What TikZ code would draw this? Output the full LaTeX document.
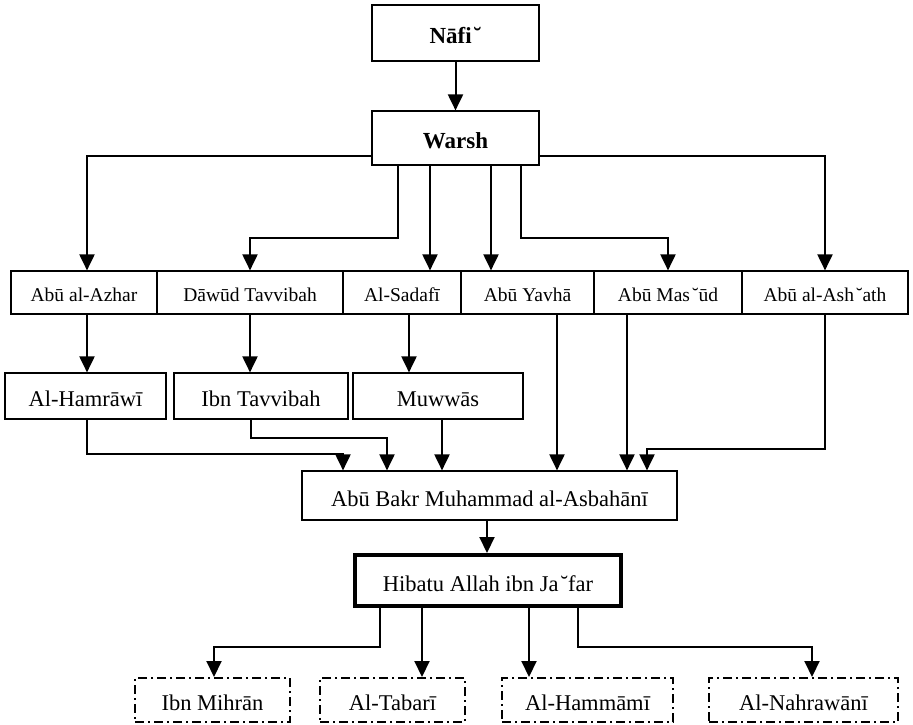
\documentclass[tikz,border=0pt]{standalone}
\usepackage{fontspec}
\setmainfont{Liberation Serif}
\usetikzlibrary{arrows.meta}
\newcommand{\ayn}{\kern2pt˘}
\begin{document}
\begin{tikzpicture}[x=1pt,y=-1pt,
  box/.style={draw, line width=1.2pt, inner sep=0pt, text height=26pt, text depth=5pt, font=\fontsize{22.5}{26}\selectfont},
  smallbox/.style={box, text height=22.5pt, text depth=4.3pt, font=\fontsize{19.5}{23}\selectfont},
  topbox/.style={box, font=\fontsize{23}{27}\selectfont\bfseries},
  thickbox/.style={box, line width=4pt},
  dashbox/.style={box, line width=2pt, dash pattern=on 9pt off 4pt on 2pt off 4pt},
  arr/.style={line width=2pt, -{Triangle[length=16pt,width=15pt]}}]
\useasboundingbox (0,0) rectangle (913,724);
% top
\node[topbox, minimum width=167pt, minimum height=56pt] (nafi) at (455.5,33) {Nāfi\ayn};
\node[topbox, minimum width=167pt, minimum height=54pt] (warsh) at (455.5,138) {Warsh};
% row 2
\node[smallbox, minimum width=146pt, minimum height=43pt] (azhar) at (84,292.5) {Abū al-Azhar};
\node[smallbox, minimum width=186pt, minimum height=43pt] (dawud) at (250,292.5) {Dāwūd Tavvibah};
\node[smallbox, minimum width=118pt, minimum height=43pt] (sadafi) at (402,292.5) {Al-Sadafī};
\node[smallbox, minimum width=133pt, minimum height=43pt] (yahya) at (527.5,292.5) {Abū Yavhā};
\node[smallbox, minimum width=148pt, minimum height=43pt] (masud) at (668,292.5) {Abū Mas\ayn ūd};
\node[smallbox, minimum width=166pt, minimum height=43pt] (ashath) at (825,292.5) {Abū al-Ash\ayn ath};
% row 3
\node[box, minimum width=161pt, minimum height=46pt] (hamrawi) at (85.5,396) {Al-Hamrāwī};
\node[box, minimum width=174pt, minimum height=46pt] (ibnt) at (261,396) {Ibn Tavvibah};
\node[box, minimum width=170pt, minimum height=46pt] (muwwas) at (438,396) {Muwwās};
% row 4
\node[box, minimum width=375pt, minimum height=49pt] (abubakr) at (489.5,495.5) {Abū Bakr Muhammad al-Asbahānī};
\node[thickbox, minimum width=266pt, minimum height=51pt] (hibatu) at (488,580.5) {Hibatu Allah ibn Ja\ayn far};
% bottom
\node[dashbox, minimum width=155pt, minimum height=44pt] (mihran) at (212.5,700) {Ibn Mihrān};
\node[dashbox, minimum width=145pt, minimum height=44pt] (tabari) at (392.5,700) {Al-Tabarī};
\node[dashbox, minimum width=171pt, minimum height=44pt] (hammami) at (587.5,700) {Al-Hammāmī};
\node[dashbox, minimum width=189pt, minimum height=44pt] (nahrawani) at (803.5,700) {Al-Nahrawānī};
% connectors
\draw[arr] (nafi) -- (warsh);
\draw[arr] ([yshift=10pt]warsh.south west) -| ([xshift=3pt]azhar.north);
\draw[arr] ([xshift=-57.5pt]warsh.south) -- ++(0,72) -| (dawud.north);
\draw[arr] ([xshift=-25.5pt]warsh.south) -- ([xshift=28pt]sadafi.north);
\draw[arr] ([xshift=35.5pt]warsh.south) -- ([xshift=-36.5pt]yahya.north);
\draw[arr] ([xshift=65.5pt]warsh.south) -- ++(0,72) -| (masud.north);
\draw[arr] ([yshift=10pt]warsh.south east) -| (ashath.north);
\draw[arr] ([xshift=3pt]azhar.south) -- ([xshift=1.5pt]hamrawi.north);
\draw[arr] (dawud.south) -- ([xshift=-11pt]ibnt.north);
\draw[arr] ([xshift=7pt]sadafi.south) -- ([xshift=-29pt]muwwas.north);
\draw[arr] ([xshift=1.5pt]hamrawi.south) -- ++(0,34) -| ([xshift=-146.5pt]abubakr.north);
\draw[arr] ([xshift=-10pt]ibnt.south) -- ++(0,18) -| ([xshift=-102.5pt]abubakr.north);
\draw[arr] ([xshift=4pt]muwwas.south) -- ([xshift=-47.5pt]abubakr.north);
\draw[arr] ([xshift=29.5pt]yahya.south) -- ([xshift=67.5pt]abubakr.north);
\draw[arr] ([xshift=-41pt]masud.south) -- ([xshift=137.5pt]abubakr.north);
\draw[arr] (ashath.south) -- ++(0,134) -| ([xshift=157.5pt]abubakr.north);
\draw[arr] ([xshift=-2.5pt]abubakr.south) -- ([xshift=-1pt]hibatu.north);
\draw[arr] ([xshift=-108pt]hibatu.south) -- ++(0,39) -| ([xshift=1.5pt]mihran.north);
\draw[arr] ([xshift=-66pt]hibatu.south) -- ([xshift=29.5pt]tabari.north);
\draw[arr] ([xshift=41pt]hibatu.south) -- ([xshift=-58.5pt]hammami.north);
\draw[arr] ([xshift=90pt]hibatu.south) -- ++(0,39) -| ([xshift=8.5pt]nahrawani.north);
\end{tikzpicture}
\end{document}
